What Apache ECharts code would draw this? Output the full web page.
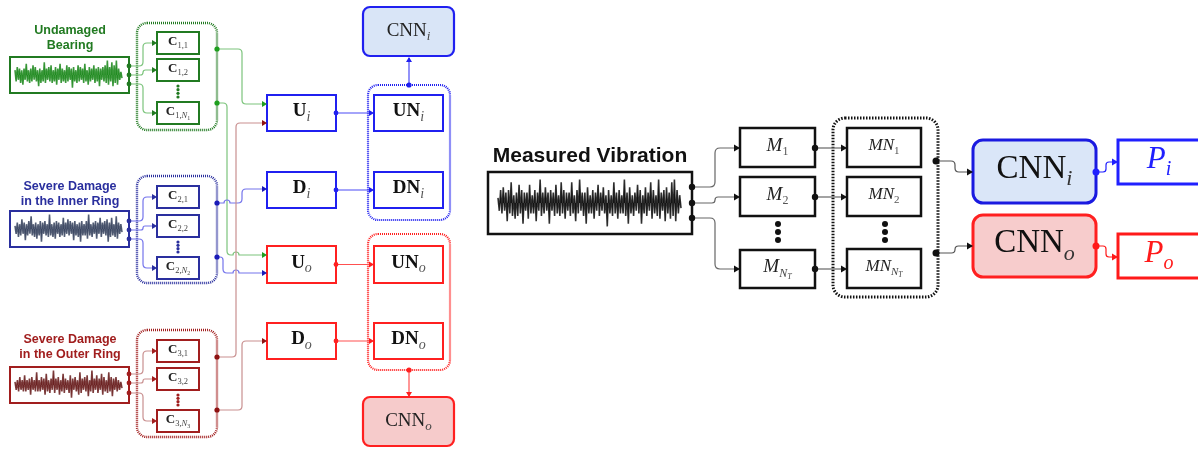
<!DOCTYPE html>
<html><head><meta charset="utf-8">
<script src="https://cdn.jsdelivr.net/npm/echarts@6/dist/echarts.min.js"></script>
<style>html,body{margin:0;padding:0;background:#fff}#c{width:1198px;height:450px}</style>
</head><body><div id="c"></div>
<script>
// ---------------- DATA ----------------
const groupTitles = [['Undamaged', 'Bearing'], ['Severe Damage', 'in the Inner Ring'], ['Severe Damage', 'in the Outer Ring']];
const componentIndex = ['1', '2', '3'];
const stageLabels = ['U', 'D'];
const networkSuffix = ['i', 'o'];
const mainTitle = 'Measured Vibration';
const modeLabels = ['1', '2', 'NT'];
const outputLabels = ['P', 'P'];

// vibration signals (amplitude)
const sigUndamaged = [0.3,-0.4,0.5,-0.3,0.4,-0.5,0.3,-0.6,0.4,-0.3,0.7,-0.4,0.3,-0.5,0.4,-0.4,0.6,-0.3,0.5,-0.4,0.3,-0.7,0.4,-0.5,0.3,-0.4,0.8,-0.5,0.4,-0.3,0.5,-0.4,0.6,-0.5,0.3,-0.4,0.5,-0.6,0.4,-0.3,0.7,-0.5,0.4,-0.4,0.3,-0.5,0.6,-0.4,0.5,-0.3,0.4,-0.8,0.5,-0.4,0.3,-0.5,0.6,-0.4,0.5,-0.3,0.4,-0.5,0.7,-0.4,0.3,-0.6,0.5,-0.4,0.4,-0.3,0.6,-0.5,0.4,-0.4,0.5,-0.7,0.4,-0.3,0.5,-0.4,0.6,-0.5,0.9,-0.6,0.5,-0.4,0.8,-0.7,0.6,-0.5,0.9,-0.6,0.4,-0.3,0.2,-0.2];
const sigInner = [0.2,-0.3,0.4,-0.5,0.3,-0.4,0.6,-0.3,0.4,-0.7,0.3,-0.4,0.5,-0.3,0.8,-0.4,0.3,-0.5,0.4,-0.6,0.3,-0.4,0.5,-0.8,0.4,-0.3,0.5,-0.4,0.3,-0.5,0.9,-0.4,0.3,-0.5,0.4,-0.6,0.5,-0.3,0.4,-0.5,0.3,-0.4,0.7,-0.5,0.4,-0.3,0.6,-0.4,0.5,-0.3,0.4,-0.7,0.5,-0.4,0.3,-0.5,0.4,-0.8,0.5,-0.4,0.3,-0.4,0.5,-0.6,0.9,-0.4,0.3,-0.5,0.4,-0.3,0.5,-0.6,0.4,-0.3,0.7,-0.5,0.4,-0.3,0.5,-0.4,0.6,-0.8,0.4,-0.5,0.7,-0.4,0.3,-0.5,0.8,-0.6,0.4,-0.3,0.3,-0.2];
const sigOuter = [0.2,-0.3,0.3,-0.4,0.5,-0.3,0.3,-0.4,0.6,-0.4,0.3,-0.3,0.4,-0.6,0.5,-0.3,0.3,-0.4,0.8,-0.4,0.3,-0.4,0.5,-0.3,0.4,-0.6,0.7,-0.4,0.3,-0.5,0.4,-0.3,0.9,-0.5,0.4,-0.3,0.5,-0.6,0.3,-0.4,0.7,-0.5,0.4,-0.3,0.3,-0.5,0.6,-0.8,0.4,-0.3,0.5,-0.4,0.3,-0.6,0.8,-0.5,0.4,-0.3,0.5,-0.4,0.6,-0.7,0.3,-0.4,0.9,-0.5,0.4,-0.3,0.6,-0.5,0.4,-0.3,0.7,-0.6,0.5,-0.4,0.3,-0.5,0.8,-0.4,0.5,-0.7,0.4,-0.3,0.5,-0.4,0.3,-0.3,0.2,-0.2];
const sigMeasured = [0.2,-0.3,0.5,-0.4,0.6,-0.3,0.4,-0.7,0.5,-0.4,0.8,-0.5,0.3,-0.6,0.4,-0.5,0.7,-0.4,0.5,-0.8,0.4,-0.3,0.4,-0.6,0.7,-0.4,0.3,-0.4,0.5,-0.7,0.4,-0.3,0.9,-0.5,0.4,-0.4,0.6,-0.3,0.4,-0.8,0.5,-0.3,0.4,-0.5,0.7,-0.4,0.3,-0.5,0.8,-0.4,0.5,-0.6,0.4,-0.3,0.4,-0.5,0.8,-0.4,0.3,-0.7,0.5,-0.4,0.9,-0.3,0.4,-0.5,0.4,-0.8,0.6,-0.4,0.3,-0.4,0.5,-0.6,0.4,-0.3,0.7,-0.5,0.4,-0.3,0.6,-0.4,0.3,-0.9,0.5,-0.4,0.3,-0.5,0.8,-0.4,0.4,-0.6,0.5,-0.4,0.3,-0.4,0.9,-0.5,0.4,-0.8,0.6,-0.4,0.3,-0.5,0.4,-0.3,0.7,-0.4,0.5,-0.8,0.3,-0.4,0.6,-0.5,0.4,-0.3,0.8,-0.6,0.5,-0.4,0.3,-0.5,0.9,-0.6,0.4,-0.3,0.5,-0.7,0.6,-0.4,0.4,-0.6,0.8,-0.5,0.9,-0.7,0.5,-0.4,0.3,-0.2];

// ---------------- LAYOUT / STYLE ----------------
const SERIF = '"Liberation Serif", "DejaVu Serif", serif';
const SANS = '"Liberation Sans", Arial, sans-serif';
const groupStyle = [
  {dark:'#217a21', wave:'#1f8a1f', line:'#7cc47c', dot:'#1f9f1f', arrow:'#1f9f1f'},
  {dark:'#2a2f9e', wave:'#3a4560', line:'#7474ec', dot:'#1a1ab8', arrow:'#1a1ab8'},
  {dark:'#a11e1e', wave:'#6a2020', line:'#c99090', dot:'#8e1212', arrow:'#8e1212'}
];
const L = {
  sigTop:[57,211,367], sigDots:[[66,75,84],[221,230,239],[374,383,393]],
  grpTop:[23,176,330], cBoxes:[[[32,54],[59,81],[102,124]],[[186,208],[215,237],[257,279]],[[340,362],[368,390],[410,432]]],
  grpOut:[[49,103],[203,257],[357,410]], titleY:[38,194.5,347.5]
};
const waves = [
  {data:sigUndamaged, color:groupStyle[0].wave, box:[15,59,107,32]},
  {data:sigInner, color:groupStyle[1].wave, box:[15,213,107,32]},
  {data:sigOuter, color:groupStyle[2].wave, box:[15,369,107,32]},
  {data:sigMeasured, color:'#111', box:[498,177,183,52]}
];

// ---------------- ELEMENT BUILDERS ----------------
function buildEls(coord){
  const P=(x,y)=>coord([x,y]);
  const els=[];
  function rect(x1,y1,x2,y2,o){
    const a=P(x1,y1),b=P(x2,y2);
    els.push({type:'rect',zz:o.z||5,shape:{x:a[0],y:a[1],width:b[0]-a[0],height:b[1]-a[1],r:o.r||0},
      style:{stroke:o.stroke,fill:o.fill||'#fff',lineWidth:o.lw||2,lineDash:o.dash||null,lineCap:'butt'}});
  }
  function dot(x,y,r,c){const a=P(x,y);els.push({type:'circle',zz:8,shape:{cx:a[0],cy:a[1],r:r},style:{fill:c}});}
  function arrow(x,y,dir,c,s){
    s=s||5;const a=P(x,y);let pts;
    if(dir==='r')pts=[[a[0],a[1]],[a[0]-s,a[1]-s*0.6],[a[0]-s,a[1]+s*0.6]];
    if(dir==='u')pts=[[a[0],a[1]],[a[0]-s*0.6,a[1]+s],[a[0]+s*0.6,a[1]+s]];
    if(dir==='d')pts=[[a[0],a[1]],[a[0]-s*0.6,a[1]-s],[a[0]+s*0.6,a[1]-s]];
    els.push({type:'polygon',zz:9,shape:{points:pts},style:{fill:c}});
  }
  function route(pts,c,lw,hops,r){
    r=r===undefined?4:r;hops=hops||[];
    const p=pts.map(q=>P(q[0],q[1]));
    let d='M'+p[0][0]+' '+p[0][1];
    for(let i=1;i<p.length;i++){
      const a=p[i-1],b=p[i];let end=b,ns=null;
      if(i<p.length-1){
        const cc=p[i+1];const l1=Math.hypot(b[0]-a[0],b[1]-a[1]),l2=Math.hypot(cc[0]-b[0],cc[1]-b[1]);
        const rr=Math.min(r,l1/2,l2/2);
        end=[b[0]-(b[0]-a[0])/l1*rr,b[1]-(b[1]-a[1])/l1*rr];
        ns=[b[0]+(cc[0]-b[0])/l2*rr,b[1]+(cc[1]-b[1])/l2*rr];
      }
      if(Math.abs(a[1]-b[1])<0.01){
        const dir=Math.sign(b[0]-a[0]);
        hops.map(h=>P(h,0)[0]).filter(hx=>(hx-a[0])*dir>3&&(end[0]-hx)*dir>3).sort((u,v)=>(u-v)*dir)
          .forEach(hx=>{d+=' L'+(hx-3*dir)+' '+a[1]+' A3 3 0 0 '+(dir>0?1:0)+' '+(hx+3*dir)+' '+a[1];});
      }
      d+=' L'+end[0]+' '+end[1];
      if(ns)d+=' Q'+b[0]+' '+b[1]+' '+ns[0]+' '+ns[1];
    }
    els.push({type:'path',zz:4,shape:{pathData:d},style:{stroke:c,lineWidth:lw||1.2,fill:null}});
  }
  function text(x,y,str,rich,font){
    const a=P(x,y);
    const st=Object.assign({text:str,x:a[0],y:a[1],align:'center',verticalAlign:'middle',textAlign:'center',textVerticalAlign:'middle'},font||{});
    if(rich)st.rich=rich;
    els.push({type:'text',zz:10,style:st});
  }
  function tok(o){return Object.assign({fontFamily:SERIF,verticalAlign:'bottom',fill:'#222',color:'#222'},o);}

  const richC = {b:tok({fontSize:13,fontWeight:'bold',padding:[0,0,3,0]}),s:tok({fontSize:8.5,fill:'#444',color:'#444',padding:[0,0,1,0]}),
    si:tok({fontSize:8.5,fontStyle:'italic',fill:'#444',color:'#444',padding:[0,0,1,0]}),ss:tok({fontSize:6,fill:'#444',color:'#444'})};
  const richU = {b:tok({fontSize:19,fontWeight:'bold',fill:'#111',color:'#111',padding:[0,0,3,0]}),i:tok({fontSize:14,fontStyle:'italic',fill:'#555',color:'#555'})};
  const richCnnS = {n:tok({fontSize:19,fill:'#222',color:'#222',padding:[0,0,3,0]}),i:tok({fontSize:13,fontStyle:'italic',fill:'#444',color:'#444'})};
  const richM = {m:tok({fontSize:19,fontStyle:'italic',fill:'#222',color:'#222',padding:[0,0,4,0]}),s:tok({fontSize:12,fill:'#555',color:'#555',padding:[0,0,1,0]}),
    si:tok({fontSize:12,fontStyle:'italic',fill:'#444',color:'#444',padding:[0,0,1,0]}),ss:tok({fontSize:8,fontStyle:'italic',fill:'#444',color:'#444'})};
  const richMN = {m:tok({fontSize:17,fontStyle:'italic',fill:'#222',color:'#222',padding:[0,0,4,0]}),s:tok({fontSize:11,fill:'#555',color:'#555',padding:[0,0,1,0]}),
    si:tok({fontSize:11,fontStyle:'italic',fill:'#444',color:'#444',padding:[0,0,1,0]}),ss:tok({fontSize:7.5,fontStyle:'italic',fill:'#444',color:'#444'})};
  const richCnnL = {n:tok({fontSize:33,fill:'#111',color:'#111',padding:[0,0,5,0]}),i:tok({fontSize:22,fontStyle:'italic',fill:'#333',color:'#333'})};

  // ----- left part -----
  for(let g=0;g<3;g++){
    const st=groupStyle[g];
    text(70,L.titleY[g],groupTitles[g].join('\n'),null,{fontFamily:SANS,fontWeight:'bold',fontSize:12.5,lineHeight:15,fill:st.dark});
    rect(10,L.sigTop[g],129,L.sigTop[g]+36,{stroke:st.dark,fill:'rgba(0,0,0,0)',lw:2,z:6});
    rect(137,L.grpTop[g],217,L.grpTop[g]+107,{stroke:st.dark,fill:'rgba(0,0,0,0)',lw:2.4,r:10,dash:[1,1],z:2});
    const cb=L.cBoxes[g];
    cb.forEach((yy,k)=>{
      const yc=(yy[0]+yy[1])/2;
      rect(157,yy[0],199,yy[1],{stroke:st.dark,lw:2,z:6});
      const sub = k<2 ? '{s|'+componentIndex[g]+','+(k+1)+'}' : '{s|'+componentIndex[g]+',}{si|N}{ss|'+componentIndex[g]+'}';
      text(178,yc,'{b|C}'+sub,richC);
      const dy=L.sigDots[g][k];
      route([[129,dy],[143,dy],[143,yc],[157,yc]],st.line,1.2,[],4);
      arrow(157,yc,'r',st.dark,5);
      dot(129,dy,2.4,st.dark);
    });
    const e0=cb[1][1],e1=cb[2][0];
    for(let k=0;k<4;k++)dot(178,e0+5+k*(e1-e0-10)/3,1.6,st.dark);
    L.grpOut[g].forEach(y=>dot(217,y,2.6,st.dot));
  }
  route([[217,49],[242,49],[242,104],[267,104]],groupStyle[0].line,1.2,[],4); arrow(267,104,'r',groupStyle[0].arrow);
  route([[217,103],[227,103],[227,255],[267,255]],groupStyle[0].line,1.2,[236],4); arrow(267,255,'r',groupStyle[0].arrow);
  route([[217,203],[242,203],[242,189],[267,189]],groupStyle[1].line,1.2,[227,236],4); arrow(267,189,'r',groupStyle[1].arrow);
  route([[217,257],[223,257],[223,273],[267,273]],groupStyle[1].line,1.2,[236],4); arrow(267,273,'r',groupStyle[1].arrow);
  route([[217,357],[236,357],[236,123],[267,123]],groupStyle[2].line,1.2,[],4); arrow(267,123,'r',groupStyle[2].arrow);
  route([[217,410],[242,410],[242,341],[267,341]],groupStyle[2].line,1.2,[],4); arrow(267,341,'r',groupStyle[2].arrow);

  const mid=[{c:'#2020f0',lc:'#4a4af5',ys:[[95,131],[172,208]],grp:[85,220],cnn:[7,56],fill:'#d9e5f7',suf:networkSuffix[0]},
             {c:'#ff2020',lc:'#ff5050',ys:[[246,283],[323,359]],grp:[234,370],cnn:[397,446],fill:'#f6cbcb',suf:networkSuffix[1]}];
  mid.forEach((m,j)=>{
    m.ys.forEach((yy,k)=>{
      const yc=(yy[0]+yy[1])/2;
      rect(267,yy[0],336,yy[1],{stroke:m.c,lw:2,z:6});
      rect(374,yy[0],443,yy[1],{stroke:m.c,lw:2,z:6});
      text(301.5,yc,'{b|'+stageLabels[k]+'}{i|'+m.suf+'}',richU);
      text(408.5,yc,'{b|'+stageLabels[k]+'N}{i|'+m.suf+'}',richU);
      route([[336,yc],[374,yc]],m.lc,1.2,[],0); dot(336,yc,2.4,m.c); arrow(374,yc,'r',m.c);
    });
    rect(368,m.grp[0],450,m.grp[1],{stroke:m.c,fill:'rgba(0,0,0,0)',lw:2.2,r:10,dash:[1,1],z:2});
    rect(363,m.cnn[0],454,m.cnn[1],{stroke:m.c,fill:m.fill,lw:2.2,r:7,z:6});
    text(408.5,(m.cnn[0]+m.cnn[1])/2+1,'{n|CNN}{i|'+m.suf+'}',richCnnS);
    if(j===0){route([[409,85],[409,58]],m.lc,1.2,[],0);dot(409,85,2.6,m.c);arrow(409,57,'u',m.c);}
    else{route([[409,370],[409,397]],m.lc,1.2,[],0);dot(409,370,2.6,m.c);arrow(409,397,'d',m.c);}
  });

  // ----- right part -----
  text(590,156,mainTitle,null,{fontFamily:SANS,fontWeight:'bold',fontSize:21,fill:'#111'});
  rect(488,172,692,234,{stroke:'#111',fill:'rgba(0,0,0,0)',lw:2.5,z:6});
  const mBoxes=[[128,167],[177,216],[250,288]];
  const mnBoxes=[[128,167],[177,216],[249,288]];
  const vDots=[187,203,218];
  const mIn=[148,197,269];
  mBoxes.forEach((yy,k)=>{
    const yc=(yy[0]+yy[1])/2;
    rect(740,yy[0],815,yy[1],{stroke:'#111',lw:2.5,z:6});
    rect(847,mnBoxes[k][0],921,mnBoxes[k][1],{stroke:'#111',lw:2.5,z:6});
    const lab=modeLabels[k];
    const sub=lab==='NT'?'{si|N}{ss|T}':'{s|'+lab+'}';
    text(777.5,yc,'{m|M}'+sub,richM);
    text(884,(mnBoxes[k][0]+mnBoxes[k][1])/2,'{m|MN}'+sub,richMN);
    route([[692,vDots[k]],[715,vDots[k]],[715,mIn[k]],[740,mIn[k]]],'#666',1.2,[],5);
    arrow(740,mIn[k],'r','#111',6);
    dot(692,vDots[k],3.2,'#111');
    route([[815,mIn[k]],[847,mIn[k]]],'#666',1.2,[],0); dot(815,mIn[k],3.2,'#111'); arrow(847,mIn[k],'r','#111',6);
  });
  [224,232,240].forEach(y=>{dot(778,y,3,'#111');dot(885,y,3,'#111');});
  rect(833,118,938,297,{stroke:'#111',fill:'rgba(0,0,0,0)',lw:3,r:12,dash:[1.5,1.5],z:2});
  const cnnR=[{y:[140,203],c:'#1a1ae0',fill:'#dae6f8',pc:'#2020ff',from:161,to:172,py:[140,184],suf:networkSuffix[0],pin:162},
              {y:[215,277],c:'#ff2020',fill:'#f7cccc',pc:'#ff1a1a',from:253,to:246,py:[234,278],suf:networkSuffix[1],pin:257}];
  cnnR.forEach((n,j)=>{
    route([[936,n.from],[955,n.from],[955,n.to],[973,n.to]],'#555',1.2,[],4);
    dot(936,n.from,3.5,'#111'); arrow(973,n.to,'r','#111',6);
    rect(973,n.y[0],1096,n.y[1],{stroke:n.c,fill:n.fill,lw:3,r:10,z:6});
    text(1034.5,(n.y[0]+n.y[1])/2,'{n|CNN}{i|'+n.suf+'}',richCnnL);
    rect(1118,n.py[0],1210,n.py[1],{stroke:n.pc,lw:3,z:6});
    route([[1096,n.to],[1106,n.to],[1106,n.pin],[1118,n.pin]],n.pc,1.2,[],3);
    dot(1096,n.to,3.5,n.pc); arrow(1118,n.pin,'r',n.pc,6);
    const richP={p:tok({fontSize:31,fontStyle:'italic',fill:n.pc,color:n.pc,padding:[0,0,5,0]}),i:tok({fontSize:20,fontStyle:'italic',fill:n.pc,color:n.pc})};
    text(1159,(n.py[0]+n.py[1])/2,'{p|'+outputLabels[j]+'}{i|'+n.suf+'}',richP);
  });
  els.sort((a,b)=>a.zz-b.zz);
  els.forEach(e=>{delete e.zz;});
  return els;
}

// ---------------- CHART ----------------
const chart = echarts.init(document.getElementById('c'));
const grids=[{left:0,top:0,width:1198,height:450,show:false}];
const xAxes=[{gridIndex:0,type:'value',min:0,max:1198,show:false}];
const yAxes=[{gridIndex:0,type:'value',min:0,max:450,inverse:true,show:false}];
const series=[{type:'custom',xAxisIndex:0,yAxisIndex:0,data:[[0,0]],silent:true,clip:false,z:2,
  renderItem:(params,api)=>({type:'group',children:buildEls(api.coord)})}];
waves.forEach((w,i)=>{
  grids.push({left:w.box[0],top:w.box[1],width:w.box[2],height:w.box[3],show:false});
  xAxes.push({gridIndex:i+1,type:'category',show:false,boundaryGap:false,data:w.data.map((_,k)=>k)});
  yAxes.push({gridIndex:i+1,type:'value',min:-1,max:1,show:false});
  series.push({type:'line',xAxisIndex:i+1,yAxisIndex:i+1,data:w.data,showSymbol:false,silent:true,
    lineStyle:{width:1.6,color:w.color,opacity:0.85},areaStyle:{color:w.color,opacity:0.95,origin:0},z:3});
});
chart.setOption({animation:false,backgroundColor:'#fff',grid:grids,xAxis:xAxes,yAxis:yAxes,series:series});
</script></body></html>
